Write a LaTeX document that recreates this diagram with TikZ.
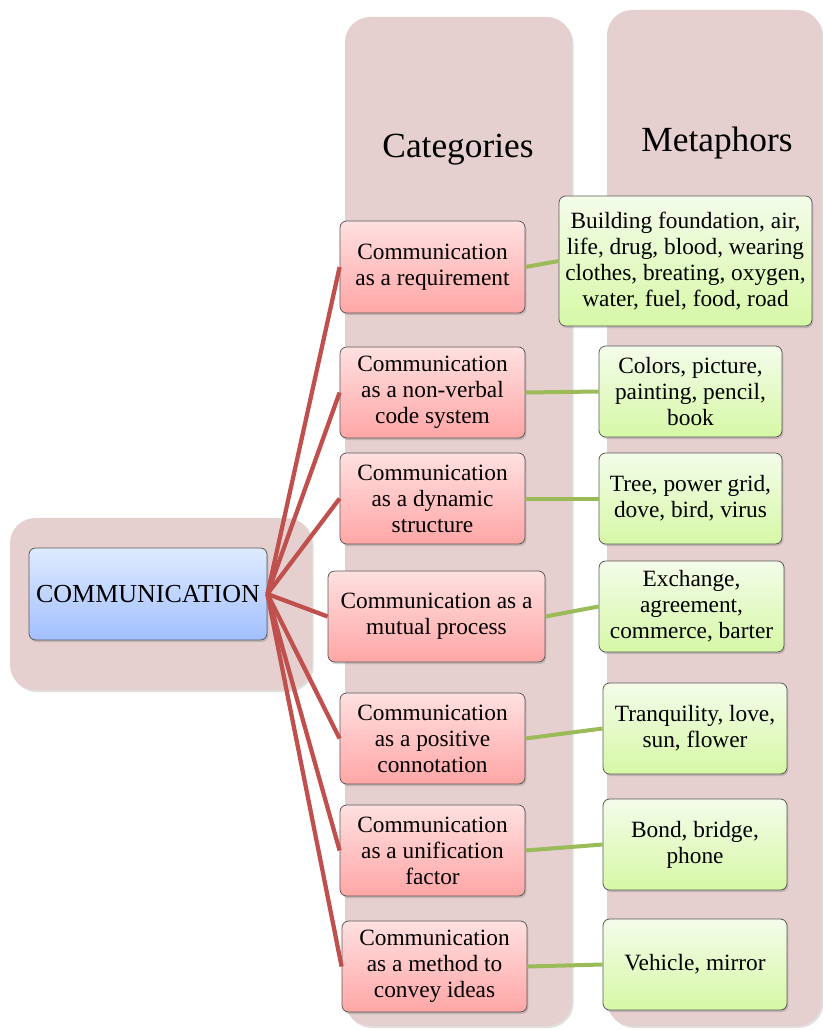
\documentclass[tikz,border=0pt]{standalone}
\usepackage{fontspec}
\setmainfont{Liberation Serif}
\usetikzlibrary{shadows}
\definecolor{panel}{RGB}{230,207,207}
\definecolor{redline}{RGB}{192,80,77}
\definecolor{greenline}{RGB}{155,187,89}
\definecolor{boxborder}{RGB}{90,90,90}
\definecolor{blueTop}{RGB}{222,234,255}
\definecolor{blueBot}{RGB}{162,192,255}
\definecolor{pinkTop}{RGB}{255,224,224}
\definecolor{pinkBot}{RGB}{255,166,166}
\definecolor{greenTop}{RGB}{244,252,234}
\definecolor{greenBot}{RGB}{214,248,166}
\tikzset{
  panelbox/.style={fill=panel, rounded corners=19pt, drop shadow={shadow xshift=1.2pt, shadow yshift=-1.5pt, opacity=0.25}},
  basebox/.style={draw=boxborder, line width=0.6pt, rounded corners=5pt, align=center, inner sep=0pt,
    font=\fontsize{17.5}{19.5}\selectfont,
    drop shadow={shadow xshift=1pt, shadow yshift=-1.5pt, opacity=0.35}},
  commbox/.style={basebox, top color=blueTop, bottom color=blueBot, font=\fontsize{19.5}{22}\selectfont},
  catbox/.style={basebox, top color=pinkTop, bottom color=pinkBot},
  metbox/.style={basebox, top color=greenTop, bottom color=greenBot},
  title/.style={font=\fontsize{26.5}{30}\selectfont},
  redlink/.style={draw=redline, line width=3.2pt},
  greenlink/.style={draw=greenline, line width=3pt}
}
\begin{document}
\begin{tikzpicture}[x=0.75pt,y=-0.75pt]
\useasboundingbox (0,0) rectangle (822,1030);
% panels
\path[panelbox] (10,518) rectangle (312,690);
\path[panelbox] (345,17) rectangle (572,1026);
\path[panelbox] (607,10) rectangle (822,1026);
\node[title] (tcat) at (458,150) {Categories};
\node[title] (tmet) at (717,143) {Metaphors};
% central node
\node[commbox, minimum width=238*0.75pt, minimum height=92*0.75pt] (comm) at (148,594) {COMMUNICATION};
% categories
\node[catbox, minimum width=185*0.75pt, minimum height=92*0.75pt] (c1) at (432.5,267) {Communication\\as a requirement};
\node[catbox, minimum width=185*0.75pt, minimum height=91*0.75pt] (c2) at (432.5,392.5) {Communication\\as a non-verbal\\code system};
\node[catbox, minimum width=185*0.75pt, minimum height=91*0.75pt] (c3) at (432.5,498.5) {Communication\\as a dynamic\\structure};
\node[catbox, minimum width=217*0.75pt, minimum height=91*0.75pt] (c4) at (436.5,616.5) {Communication as a\\mutual process};
\node[catbox, minimum width=185*0.75pt, minimum height=91*0.75pt] (c5) at (432.5,738.5) {Communication\\as a positive\\connotation};
\node[catbox, minimum width=185*0.75pt, minimum height=91*0.75pt] (c6) at (432.5,850.5) {Communication\\as a unification\\factor};
\node[catbox, minimum width=185*0.75pt, minimum height=91*0.75pt] (c7) at (434.5,966.5) {Communication\\as a method to\\convey ideas};
% metaphors
\node[metbox, minimum width=253*0.75pt, minimum height=130*0.75pt] (m1) at (685.5,261) {Building foundation, air,\\life, drug, blood, wearing\\clothes, breating, oxygen,\\water, fuel, food, road};
\node[metbox, minimum width=183*0.75pt, minimum height=91*0.75pt] (m2) at (690.5,391.5) {Colors, picture,\\painting, pencil,\\book};
\node[metbox, minimum width=183*0.75pt, minimum height=91*0.75pt] (m3) at (690.5,498.5) {Tree, power grid,\\dove, bird, virus};
\node[metbox, minimum width=185*0.75pt, minimum height=91*0.75pt] (m4) at (691.5,606.5) {Exchange,\\agreement,\\commerce, barter};
\node[metbox, minimum width=184*0.75pt, minimum height=91*0.75pt] (m5) at (695,728.5) {Tranquility, love,\\sun, flower};
\node[metbox, minimum width=184*0.75pt, minimum height=91*0.75pt] (m6) at (695,844.5) {Bond, bridge,\\phone};
\node[metbox, minimum width=184*0.75pt, minimum height=91*0.75pt] (m7) at (695,964.5) {Vehicle, mirror};
% connectors
\foreach \i in {1,...,7}{
  \draw[redlink] (comm.east) -- (c\i.west);
  \draw[greenlink] (c\i.east) -- (m\i.west);
}
\end{tikzpicture}
\end{document}
